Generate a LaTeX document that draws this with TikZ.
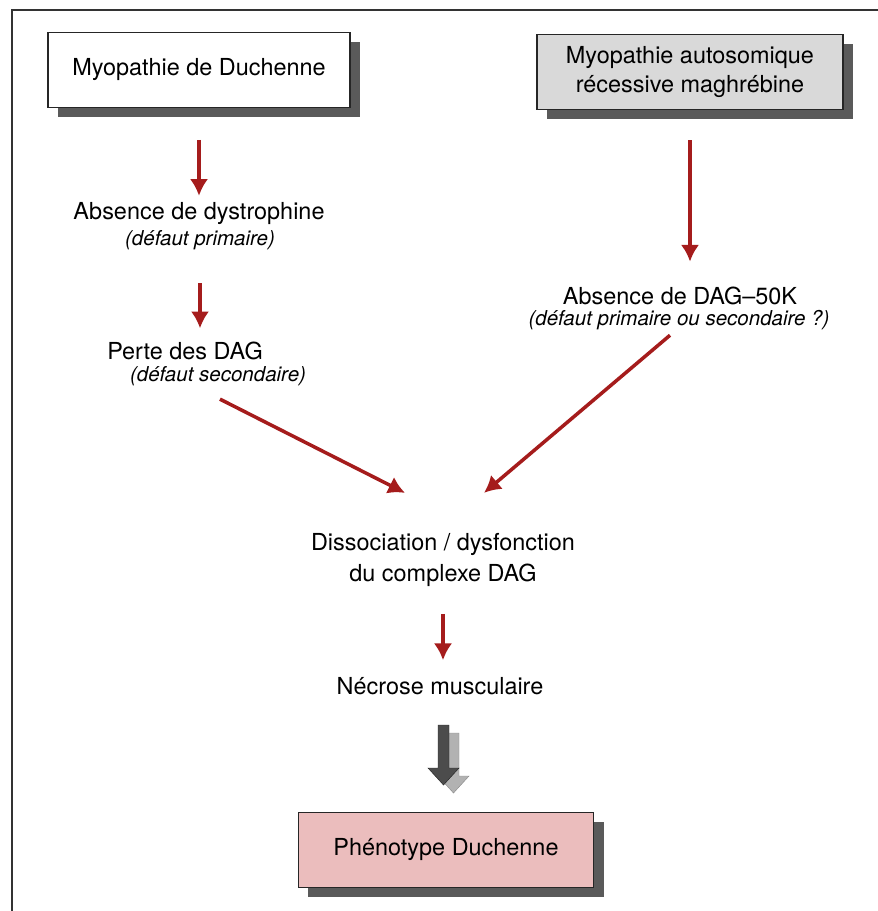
\documentclass[tikz,border=0pt]{standalone}
\usepackage{fontspec}
\setmainfont{TeX Gyre Heros}
\usetikzlibrary{shadows,arrows.meta}
\definecolor{pfeilrot}{HTML}{A51C1C}
\definecolor{kastengrau}{HTML}{D9D9D9}
\definecolor{kastenrosa}{HTML}{EBBDBD}
\definecolor{schatten}{HTML}{5A5A5A}
\begin{document}
\begin{tikzpicture}[>=latex,thick,x=0.03cm,y=-0.03cm]
\tikzset{
	kasten/.style={draw=black!85,line width=1pt,minimum height=2.25cm,
		align=center,font=\fontsize{20}{25}\selectfont,
		drop shadow={shadow xshift=0.3cm,shadow yshift=-0.27cm,fill=schatten,opacity=1}},
	gross/.style={inner sep=0pt,align=center,font=\fontsize{20}{26.5}\selectfont},
	klein/.style={inner sep=0pt,font=\fontsize{17.5}{20}\selectfont\itshape},
	pfeil/.style={-{Latex[length=0.5cm,width=0.55cm]},draw=pfeilrot,line width=3pt}
}
\useasboundingbox (0,0) rectangle (878,911);
% Rahmen
\draw[line width=1.4pt,black!80] (12,930) -- (12,10) -- (900,10);
% Kaesten
\node[kasten,fill=white,minimum width=9.06cm] (dmd) at (199,70) {Myopathie de Duchenne};
\node[kasten,fill=kastengrau,minimum width=9.18cm] (mag) at (690,72) {Myopathie autosomique\\récessive maghrébine};
\node[kasten,fill=kastenrosa,minimum width=8.85cm] (phen) at (446,850) {Phénotype Duchenne};
% Texte
\node[gross] (dys) at (199,214) {Absence de dystrophine};
\node[klein] (dysb) at (200,240) {(défaut primaire)};
\node[gross] (perte) at (185,351) {Perte des DAG};
\node[klein] (perteb) at (218,376) {(défaut secondaire)};
\node[gross] (dag) at (680,296) {Absence de DAG--50K};
\node[klein] (dagb) at (679,320) {(défaut primaire ou secondaire ?)};
\node[gross] (diss) at (443,560) {Dissociation / dysfonction\\du complexe DAG};
\node[gross] (nec) at (440,686) {Nécrose musculaire};
% Pfeile
\draw[pfeil,shorten <=0.95cm,shorten >=0.2cm] (dmd) -- (dmd |- dys.north);
\draw[pfeil,shorten <=1.0cm,shorten >=0.4cm] (dysb) -- (dysb |- perte.north);
\draw[pfeil,shorten <=0.9cm,shorten >=0.75cm] (mag) -- (mag |- dag.north);
\path (perteb.south) ++(2,13) coordinate (p1) (diss.north) ++(-38,-40) coordinate (p2);
\draw[pfeil] (p1) -- (p2);
\path (dagb.south) ++(-9,5) coordinate (q1) (diss.north) ++(41,-40) coordinate (q2);
\draw[pfeil] (q1) -- (q2);
\draw[pfeil,shorten <=0.8cm,shorten >=0.5cm] (diss) -- (diss |- nec.north);
% Blockpfeil
\def\blockpfeil#1#2{(#1+0,#2+0) -- (#1+11,#2+0) -- (#1+11,#2+43) -- (#1+21,#2+43)
	-- (#1+5.5,#2+60) -- (#1-10,#2+43) -- (#1+0,#2+43) -- cycle}
\fill[black!30,draw=black!45,thin] \blockpfeil{448}{733};
\fill[black!70,draw=black!85,thin] \blockpfeil{438}{725};
\end{tikzpicture}
\end{document}
